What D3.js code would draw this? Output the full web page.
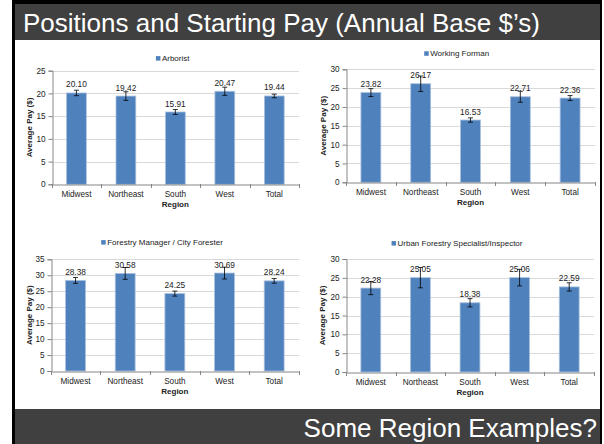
<!DOCTYPE html>
<html>
<head>
<meta charset="utf-8">
<script src="https://cdn.jsdelivr.net/npm/d3@7"></script>
<style>
  html, body { margin: 0; padding: 0; background: #fff; }
  svg { display: block; font-family: "Liberation Sans", Arial, sans-serif; }
</style>
</head>
<body>
<svg id="chart" width="604" height="444"></svg>
<script>
// ---------------- DATA ----------------
const pageTitle = "Positions and Starting Pay (Annual Base $\u2019s)";
const footerText = "Some Region Examples?";
const regions = ["Midwest", "Northeast", "South", "West", "Total"];
const xAxisTitle = "Region";
const yAxisTitle = "Average Pay ($)";

const seriesNames = ["Arborist", "Working Forman", "Forestry Manager / City Forester", "Urban Forestry Specialist/Inspector"];

const arboristPay = [20.10, 19.42, 15.91, 20.47, 19.44];
const arboristErr = [0.6, 0.95, 0.55, 0.9, 0.4];

const formanPay = [23.82, 26.17, 16.53, 22.71, 22.36];
const formanErr = [1.05, 2.05, 0.57, 1.45, 0.66];

const managerPay = [28.38, 30.58, 24.25, 30.69, 28.24];
const managerErr = [0.9, 1.85, 0.78, 1.85, 0.73];

const specialistPay = [22.28, 25.05, 18.38, 25.06, 22.59];
const specialistErr = [1.75, 2.7, 1.1, 2.2, 1.1];

const yMaxes = [25, 30, 35, 30];
const yStep = 5;

// ---------------- LAYOUT ----------------
const svg = d3.select("#chart");
const DARK = "#404040";
const BAR = "#4f81bd";

// slide frame
svg.append("rect").attr("x", 12).attr("y", 0).attr("width", 590).attr("height", 444).attr("fill", "#000");
svg.append("rect").attr("x", 15).attr("y", 4).attr("width", 585).attr("height", 36).attr("fill", DARK);
svg.append("rect").attr("x", 15).attr("y", 40).attr("width", 585).attr("height", 369).attr("fill", "#fff");
svg.append("rect").attr("x", 15).attr("y", 409).attr("width", 585).attr("height", 35).attr("fill", DARK);

svg.append("text").attr("x", 23).attr("y", 32).attr("fill", "#fff")
  .attr("font-size", 26).text(pageTitle);
svg.append("text").attr("x", 597).attr("y", 437).attr("fill", "#fff")
  .attr("text-anchor", "end").attr("font-size", 26).text(footerText);

const panels = [
  { name: seriesNames[0], vals: arboristPay, errs: arboristErr, yMax: yMaxes[0],
    x0: 51.7, x1: 299, yTop: 70.7, yBot: 184.3, legX: 172.7, legY: 58.3, titleX: 29 },
  { name: seriesNames[1], vals: formanPay, errs: formanErr, yMax: yMaxes[1],
    x0: 346, x1: 595, yTop: 69.3, yBot: 182.3, legX: 456.7, legY: 53.5, titleX: 323.3 },
  { name: seriesNames[2], vals: managerPay, errs: managerErr, yMax: yMaxes[2],
    x0: 50.7, x1: 299, yTop: 259.3, yBot: 371, legX: 162, legY: 242.3, titleX: 29 },
  { name: seriesNames[3], vals: specialistPay, errs: specialistErr, yMax: yMaxes[3],
    x0: 346, x1: 594, yTop: 259, yBot: 372, legX: 457, legY: 243.3, titleX: 322 }
];

panels.forEach(p => {
  const g = svg.append("g");
  const x = d3.scaleBand().domain(regions).range([p.x0, p.x1]).paddingInner(0).paddingOuter(0);
  const y = d3.scaleLinear().domain([0, p.yMax]).range([p.yBot, p.yTop]);
  const ticks = d3.range(0, p.yMax + 0.001, yStep);

  // gridlines
  g.selectAll("line.grid").data(ticks.filter(t => t > 0)).enter().append("line")
    .attr("x1", p.x0).attr("x2", p.x1)
    .attr("y1", d => Math.round(y(d)) + 0.5).attr("y2", d => Math.round(y(d)) + 0.5)
    .attr("stroke", "#d9d9d9").attr("stroke-width", 1);

  // y axis
  const yAxis = d3.axisLeft(y).tickValues(ticks).tickSize(4).tickPadding(3).tickFormat(d3.format("d"));
  const ya = g.append("g").attr("transform", `translate(${Math.round(p.x0) + 0.5},0)`).call(yAxis);
  ya.select(".domain").attr("stroke", "#868686");
  ya.selectAll(".tick line").attr("stroke", "#868686");
  ya.selectAll(".tick text").attr("font-size", 8.2).attr("fill", "#222").attr("font-family", "Liberation Sans, Arial, sans-serif");

  // bars
  const bw = x.bandwidth() * 0.4;
  g.selectAll("rect.bar").data(p.vals).enter().append("rect")
    .attr("x", (d, i) => x(regions[i]) + (x.bandwidth() - bw) / 2)
    .attr("y", d => y(d))
    .attr("width", bw)
    .attr("height", d => p.yBot - y(d))
    .attr("fill", BAR).attr("stroke", "#a9c0de").attr("stroke-width", 0.8);

  // x axis
  const xAxis = d3.axisBottom(x).tickSize(0).tickPadding(7);
  const xa = g.append("g").attr("transform", `translate(0,${Math.round(p.yBot) + 0.5})`).call(xAxis);
  xa.select(".domain").attr("stroke", "#868686");
  xa.selectAll(".tick text").attr("font-size", 8.2).attr("fill", "#222").attr("font-family", "Liberation Sans, Arial, sans-serif");
  // category separator ticks
  g.selectAll("line.sep").data(d3.range(regions.length + 1)).enter().append("line")
    .attr("x1", i => Math.round(p.x0 + i * x.step()) + 0.5).attr("x2", i => Math.round(p.x0 + i * x.step()) + 0.5)
    .attr("y1", Math.round(p.yBot)).attr("y2", Math.round(p.yBot) + 4)
    .attr("stroke", "#868686");

  // value labels
  g.selectAll("text.val").data(p.vals).enter().append("text")
    .attr("x", (d, i) => x(regions[i]) + x.bandwidth() / 2)
    .attr("y", d => y(d) - 5.5)
    .attr("text-anchor", "middle").attr("font-size", 8.3).attr("fill", "#222")
    .text(d => d.toFixed(2));

  // error bars
  p.vals.forEach((v, i) => {
    const cx = x(regions[i]) + x.bandwidth() / 2;
    const e = p.errs[i];
    g.append("line").attr("x1", cx).attr("x2", cx).attr("y1", y(v - e)).attr("y2", y(v + e))
      .attr("stroke", "#000").attr("stroke-width", 0.8);
    [v - e, v + e].forEach(t => {
      g.append("line").attr("x1", cx - 2.5).attr("x2", cx + 2.5).attr("y1", y(t)).attr("y2", y(t))
        .attr("stroke", "#000").attr("stroke-width", 0.8);
    });
  });

  // axis titles
  g.append("text").attr("x", (p.x0 + p.x1) / 2).attr("y", p.yBot + 23)
    .attr("text-anchor", "middle").attr("font-size", 8).attr("font-weight", "bold").attr("fill", "#222")
    .text(xAxisTitle);
  g.append("text")
    .attr("transform", `translate(${p.titleX + 3},${(p.yTop + p.yBot) / 2}) rotate(-90)`)
    .attr("text-anchor", "middle").attr("font-size", 8).attr("font-weight", "bold").attr("fill", "#222")
    .text(yAxisTitle);

  // legend
  const leg = g.append("g");
  const lt = leg.append("text").attr("font-size", 8).attr("fill", "#222").text(p.name);
  const tw = lt.node().getComputedTextLength();
  const total = 4.5 + 1.5 + tw;
  const lx = p.legX - total / 2;
  leg.append("rect").attr("x", lx).attr("y", p.legY - 2.2).attr("width", 4.5).attr("height", 4.5).attr("fill", BAR);
  lt.attr("x", lx + 6).attr("y", p.legY + 2.8);
});
</script>
</body>
</html>
